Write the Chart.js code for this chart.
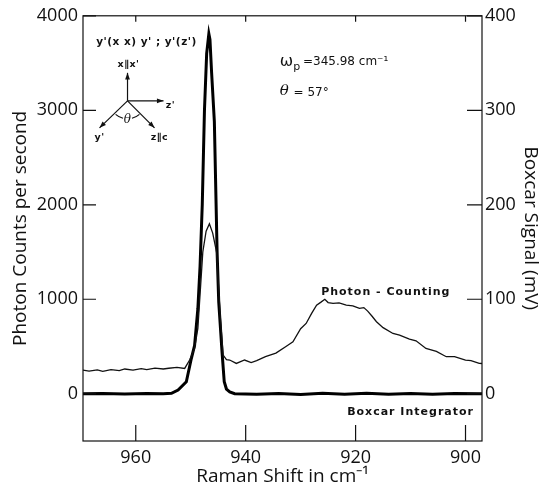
<!DOCTYPE html>
<html>
<head>
<meta charset="utf-8">
<script src="https://cdn.jsdelivr.net/npm/chart.js@4.4.1/dist/chart.umd.min.js"></script>
<style>
  body { margin: 0; background: #fff; }
  canvas { display: block; }
</style>
</head>
<body>
<canvas id="ramanChart" width="547" height="492"></canvas>
<script>
// Raman spectrum: photon counting vs boxcar integrator

// photon counting (counts per second), left axis
const shiftPhoton = [969.6, 968.5, 967, 966, 964.5, 963, 962, 960.5, 959, 958, 956.5, 955, 954, 952.5, 951.1,
  950.2, 949.3, 948.7, 947.8, 947.2, 946.6, 946.0, 945.3, 944.6, 944.1, 943.5, 942.9, 941.7, 940.2,
  939, 938, 936.4, 934.5, 932.6, 931.4, 930, 929, 928, 927.1, 926.3, 925.6, 925, 924.1, 923, 921.7,
  920.5, 919.3, 918.5, 917.8, 917, 916.2, 915, 913.2, 912, 910.2, 909, 907.2, 905.3, 903.5, 902,
  900, 899, 897.5, 897];
const countsPhoton = [250, 240, 252, 238, 255, 245, 262, 250, 266, 255, 272, 262, 270, 280, 268,
  357, 480, 691, 1500, 1720, 1800, 1700, 1500, 800, 409, 360, 357, 321, 357,
  330, 350, 392, 430, 503, 550, 688, 744, 850, 938, 970, 1000, 965, 956, 962, 938,
  930, 903, 912, 875, 820, 762, 700, 638, 620, 578, 560, 480, 448, 392, 392,
  356, 350, 321, 320];

// boxcar integrator signal (mV), right axis
const shiftBoxcar = [969.6, 966, 962, 958, 955, 953.5, 952.3, 950.8, 949.9, 949.3, 948.7, 948.3, 947.9,
  947.5, 947.1, 946.7, 946.5, 946.2, 945.7, 945.2, 944.9, 944.3, 943.9, 943.5, 942.9, 942,
  938, 934, 930, 926, 922, 918, 914, 910, 906, 902, 897];
const signalBoxcar = [0, 0.4, -0.3, 0.3, 0, 0.5, 4, 12.7, 37, 51, 90, 135, 200,
  300, 360, 381, 375, 340, 288, 150, 97, 44, 12.7, 5, 2, 0,
  -0.6, 0.4, -0.8, 0.5, -0.4, 0.6, -0.5, 0.3, -0.4, 0.4, 0];

const xTicks = [960, 940, 920, 900];
const countTicks = [0, 1000, 2000, 3000, 4000];
const mvTicks = [0, 100, 200, 300, 400];

const tickFont = { family: '"Open Sans"', size: 18 };
const titleFont = { family: '"Open Sans"', size: 19 };
const noteFont = '600 11px "DejaVu Sans"';
const plain = v => String(v);

const annotations = {
  id: 'annotations',
  afterDraw(chart) {
    const { ctx, chartArea: a, scales } = chart;
    const sx = scales.x, sy = scales.y;
    ctx.save();
    ctx.strokeStyle = '#111';
    ctx.fillStyle = '#111';

    // frame and inward ticks
    ctx.lineWidth = 1.2;
    ctx.strokeRect(a.left, a.top, a.right - a.left, a.bottom - a.top);
    ctx.beginPath();
    xTicks.forEach(v => {
      const px = sx.getPixelForValue(v);
      ctx.moveTo(px, a.bottom); ctx.lineTo(px, a.bottom - 16);
      ctx.moveTo(px, a.top); ctx.lineTo(px, a.top + 6);
    });
    countTicks.forEach(v => {
      const py = sy.getPixelForValue(v);
      ctx.moveTo(a.left, py); ctx.lineTo(a.left + 13, py);
    });
    mvTicks.forEach(v => {
      const py = scales.y2.getPixelForValue(v);
      ctx.moveTo(a.right, py); ctx.lineTo(a.right - 15, py);
    });
    ctx.stroke();

    // curve labels
    ctx.font = noteFont;
    ctx.letterSpacing = '1px';
    ctx.textAlign = 'center';
    ctx.textBaseline = 'middle';
    ctx.fillText('Photon - Counting', sx.getPixelForValue(914.5), sy.getPixelForValue(1080));
    ctx.fillText('Boxcar Integrator', sx.getPixelForValue(910), sy.getPixelForValue(-190));

    // scattering geometry
    ctx.textAlign = 'left';
    ctx.font = '600 10.5px "DejaVu Sans"';
    ctx.letterSpacing = '0.5px';
    ctx.fillText("y'(x x) y' ; y'(z')", sx.getPixelForValue(967.2), sy.getPixelForValue(3720));

    const ox = sx.getPixelForValue(961.5), oy = sy.getPixelForValue(3100);
    const arrow = (dx, dy) => {
      const x2 = ox + dx, y2 = oy + dy, ang = Math.atan2(dy, dx);
      ctx.beginPath();
      ctx.moveTo(ox, oy); ctx.lineTo(x2, y2);
      ctx.lineWidth = 1.2;
      ctx.stroke();
      ctx.beginPath();
      ctx.moveTo(x2, y2);
      ctx.lineTo(x2 - 7 * Math.cos(ang - 0.35), y2 - 7 * Math.sin(ang - 0.35));
      ctx.lineTo(x2 - 7 * Math.cos(ang + 0.35), y2 - 7 * Math.sin(ang + 0.35));
      ctx.closePath();
      ctx.fill();
    };
    arrow(0, -28);
    arrow(36, 0);
    arrow(-28, 27);
    arrow(27, 27);
    ctx.beginPath();
    ctx.arc(ox, oy, 18, Math.PI * 0.27, Math.PI * 0.42);
    ctx.stroke();
    ctx.beginPath();
    ctx.arc(ox, oy, 18, Math.PI * 0.58, Math.PI * 0.73);
    ctx.stroke();
    ctx.textAlign = 'center';
    ctx.font = '600 9.5px "DejaVu Sans"';
    ctx.fillText("x∥x'", ox + 1, oy - 36);
    ctx.fillText("z'", ox + 43, oy + 5);
    ctx.fillText("y'", ox - 28, oy + 37);
    ctx.fillText('z∥c', ox + 32, oy + 37);
    ctx.font = 'italic 12px "DejaVu Serif"';
    ctx.fillText('θ', ox, oy + 19);

    // parameters
    ctx.textAlign = 'left';
    ctx.letterSpacing = '0px';
    let px = sx.getPixelForValue(933.8);
    let py = sy.getPixelForValue(3510);
    ctx.font = '16px "DejaVu Sans"';
    ctx.fillText('ω', px, py);
    px += ctx.measureText('ω').width;
    ctx.font = '11px "DejaVu Sans"';
    ctx.fillText('p', px, py + 5);
    ctx.font = '12px "DejaVu Sans"';
    ctx.fillText(' =345.98 cm⁻¹', px + 6, py);
    px = sx.getPixelForValue(933.8);
    py = sy.getPixelForValue(3200);
    ctx.font = 'italic 15px "DejaVu Serif"';
    ctx.fillText('θ', px, py);
    ctx.font = '12px "DejaVu Sans"';
    ctx.fillText(' = 57°', px + 10, py + 1);
    ctx.restore();
  }
};

const ctxRaman = document.getElementById('ramanChart').getContext('2d');
const ramanChart = new Chart(ctxRaman, {
  type: 'line',
  data: {
    datasets: [{
      label: 'Photon-Counting',
      data: shiftPhoton.map((s, i) => ({ x: s, y: countsPhoton[i] })),
      yAxisID: 'y',
      borderColor: '#111',
      borderWidth: 1.3,
      pointRadius: 0,
      fill: false
    }, {
      label: 'Boxcar Integrator',
      data: shiftBoxcar.map((s, i) => ({ x: s, y: signalBoxcar[i] })),
      yAxisID: 'y2',
      borderColor: '#000',
      borderWidth: 3,
      pointRadius: 0,
      fill: false
    }]
  },
  options: {
    responsive: false,
    animation: false,
    layout: { padding: { top: 13, left: 0, right: 0, bottom: 0 } },
    plugins: { legend: { display: false }, tooltip: { enabled: false } },
    scales: {
      x: {
        type: 'linear',
        reverse: true,
        min: 897,
        max: 969.6,
        grid: { display: false, drawTicks: false },
        border: { display: false },
        afterBuildTicks: s => { s.ticks = xTicks.map(v => ({ value: v })); },
        afterFit: s => { s.height = 51; },
        ticks: { font: tickFont, color: '#111', padding: 6, maxRotation: 0, callback: plain },
        title: { display: true, text: 'Raman Shift in cm⁻¹', font: titleFont, color: '#111', padding: { top: 0, bottom: 4 } }
      },
      y: {
        position: 'left',
        min: -500,
        max: 4000,
        grid: { display: false, drawTicks: false },
        border: { display: false },
        afterBuildTicks: s => { s.ticks = countTicks.map(v => ({ value: v })); },
        afterFit: s => { s.width = 83; },
        ticks: { font: tickFont, color: '#111', padding: 5, callback: plain },
        title: { display: true, text: 'Photon Counts per second', font: titleFont, color: '#111', padding: { top: 9, bottom: 0 } }
      },
      y2: {
        position: 'right',
        min: -50,
        max: 400,
        grid: { display: false, drawTicks: false },
        border: { display: false },
        afterBuildTicks: s => { s.ticks = mvTicks.map(v => ({ value: v })); },
        afterFit: s => { s.width = 65; },
        ticks: { font: tickFont, color: '#111', padding: 3, callback: plain },
        title: { display: true, text: 'Boxcar Signal (mV)', font: titleFont, color: '#111', padding: { top: 5, bottom: 0 } }
      }
    }
  },
  plugins: [annotations]
});
</script>
</body>
</html>
